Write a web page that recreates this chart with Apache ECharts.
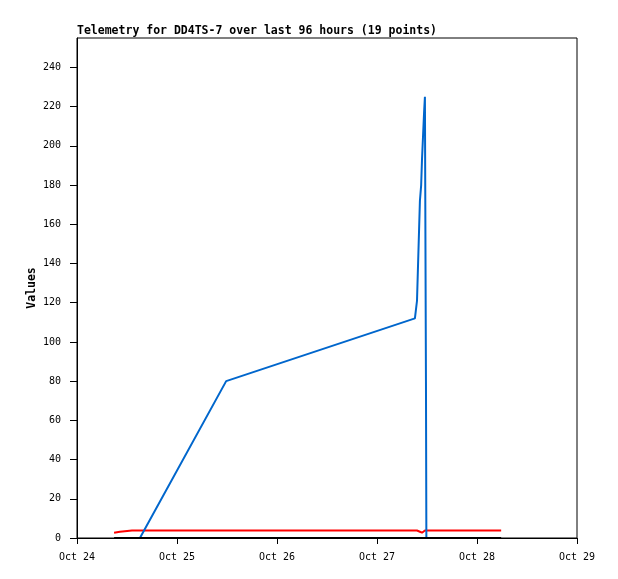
<!DOCTYPE html>
<html>
<head>
<meta charset="utf-8">
<script src="https://cdn.jsdelivr.net/npm/echarts@6/dist/echarts.min.js"></script>
<style>
  html, body { margin: 0; padding: 0; background: #fff; }
  #chart { width: 618px; height: 579px; }
</style>
</head>
<body>
<div id="chart"></div>
<script>
// hours since Oct 24 00:00
var blueTimes = [15.1, 35.8, 81.1, 81.6, 82.3, 82.6, 82.8, 83.05, 83.3, 83.5, 83.75, 83.85];
var blueValues = [0, 80, 112, 121, 172, 180, 193, 205, 217, 225, 80, 0];

var redTimes = [8.9, 10.3, 13.2, 81.6, 82.3, 82.8, 83.5, 101.8];
var redValues = [2.7, 3.2, 3.8, 3.8, 3.2, 2.7, 3.8, 3.8];

var blackTimes = [8.9, 101.8];
var blackValues = [0, 0];

var dayLabels = ['Oct 24', 'Oct 25', 'Oct 26', 'Oct 27', 'Oct 28', 'Oct 29'];

function pairs(ts, vs) {
  return ts.map(function (t, i) { return [t, vs[i]]; });
}

var chart = echarts.init(document.getElementById('chart'));
var mono = 'DejaVu Sans Mono';

chart.setOption({
  animation: false,
  title: {
    text: 'Telemetry for DD4TS-7 over last 96 hours (19 points)',
    left: 72,
    top: 20,
    textStyle: { fontFamily: mono, fontSize: 11.5, fontWeight: 'bold', color: '#000' }
  },
  // y axis title
  graphic: [{
    type: 'text',
    x: 32, y: 288,
    rotation: Math.PI / 2,
    style: {
      text: 'Values', fill: '#000',
      font: 'bold 11.5px "DejaVu Sans Mono"',
      align: 'center', verticalAlign: 'middle'
    }
  }],
  grid: {
    left: 77, top: 38, width: 500, height: 500,
    show: true, borderColor: '#000', borderWidth: 1, backgroundColor: 'transparent'
  },
  xAxis: {
    type: 'value',
    min: 0, max: 120, interval: 24,
    axisLine: { lineStyle: { color: '#000', width: 1 } },
    axisTick: { length: 6, lineStyle: { color: '#000' } },
    splitLine: { show: false },
    axisLabel: {
      margin: 14,
      fontFamily: mono, fontSize: 10, color: '#000',
      formatter: function (v) { return dayLabels[Math.round(v / 24)]; }
    }
  },
  yAxis: {
    type: 'value',
    min: 0, max: 255, interval: 20,
    axisLine: { show: true, lineStyle: { color: '#000', width: 1 } },
    axisTick: { show: true, length: 7, lineStyle: { color: '#000' } },
    splitLine: { show: false },
    axisLabel: {
      margin: 16, showMaxLabel: false,
      fontFamily: mono, fontSize: 10, color: '#000'
    }
  },
  series: [
    {
      type: 'line', data: pairs(blackTimes, blackValues), clip: false, z: 5,
      showSymbol: false, lineStyle: { color: '#000', width: 2 }
    },
    {
      type: 'line', data: pairs(redTimes, redValues),
      showSymbol: false, lineStyle: { color: '#ff0000', width: 2 }
    },
    {
      type: 'line', data: pairs(blueTimes, blueValues),
      showSymbol: false, lineStyle: { color: '#0066cc', width: 2 }
    }
  ]
});
</script>
</body>
</html>
